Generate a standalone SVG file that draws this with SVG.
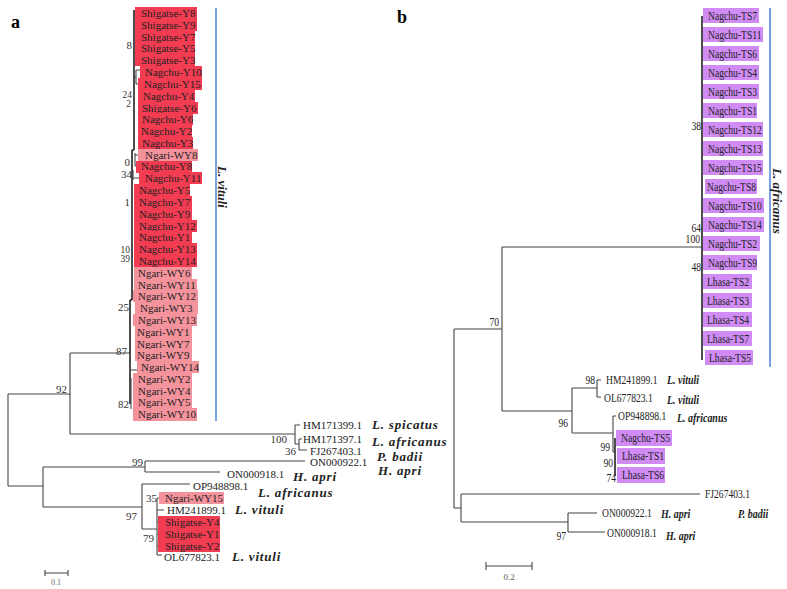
<svg xmlns="http://www.w3.org/2000/svg" width="787" height="589" viewBox="0 0 787 589">
<style>
text{font-family:"Liberation Serif","Times New Roman",serif;fill:#222}
.t{font-size:11px}
.n{font-size:11px;text-anchor:end;fill:#333}
.ns{font-size:9.5px;text-anchor:end;fill:#333}
.sp{font-size:13px;font-weight:bold;font-style:italic;letter-spacing:0.8px}
.b{font-size:12px}
.bn{font-size:12px;text-anchor:end}
.bsp{font-size:12px;font-weight:bold;font-style:italic}
.lab{font-size:18px;font-weight:bold;fill:#000}
.ln{fill:none;stroke:#444;stroke-width:1.1}
.lk{fill:none;stroke:#222;stroke-width:1.6}
.R{fill:#f23c52}
.P{fill:#f5939d}
.V{fill:#d08cf4}
.blue{stroke:#4a86d6;stroke-width:1.5}
</style>
<rect width="787" height="589" fill="#fff"/>
<text class="lab" x="11" y="28">a</text>
<text class="lab" x="397" y="23">b</text>

<!-- ===== Panel a boxes ===== -->
<g id="a-tips">
<rect class="R" x="135" y="7" width="62" height="12"/><text class="t" x="141" y="17">Shigatse-Y8</text>
<rect class="R" x="135" y="19" width="62" height="12"/><text class="t" x="141" y="29">Shigatse-Y9</text>
<rect class="R" x="135" y="31" width="60" height="12"/><text class="t" x="141" y="41">Shigatse-Y7</text>
<rect class="R" x="135" y="43" width="60" height="12"/><text class="t" x="141" y="52">Shigatse-Y5</text>
<rect class="R" x="135" y="54" width="60" height="12"/><text class="t" x="141" y="64">Shigatse-Y3</text>
<rect class="R" x="140" y="66" width="62" height="12"/><text class="t" x="145" y="76">Nagchu-Y10</text>
<rect class="R" x="138" y="78" width="64" height="12"/><text class="t" x="144" y="88">Nagchu-Y15</text>
<rect class="R" x="138" y="90" width="57" height="12"/><text class="t" x="143" y="100">Nagchu-Y4</text>
<rect class="R" x="138" y="102" width="60" height="12"/><text class="t" x="142" y="112">Shigatse-Y6</text>
<rect class="R" x="138" y="113" width="55" height="12"/><text class="t" x="142" y="123">Nagchu-Y6</text>
<rect class="R" x="138" y="125" width="54" height="12"/><text class="t" x="141" y="135">Nagchu-Y2</text>
<rect class="R" x="138" y="137" width="55" height="12"/><text class="t" x="142" y="147">Nagchu-Y3</text>
<rect class="P" x="138" y="149" width="60" height="12"/><text class="t" x="145" y="159">Ngari-WY8</text>
<rect class="R" x="136" y="161" width="56" height="12"/><text class="t" x="141" y="170">Nagchu-Y8</text>
<rect class="R" x="139" y="172" width="63" height="12"/><text class="t" x="145" y="182">Nagchu-Y11</text>
<rect class="R" x="134" y="184" width="56" height="12"/><text class="t" x="139" y="194">Nagchu-Y5</text>
<rect class="R" x="134" y="196" width="58" height="12"/><text class="t" x="139" y="206">Nagchu-Y7</text>
<rect class="R" x="134" y="208" width="58" height="12"/><text class="t" x="139" y="218">Nagchu-Y9</text>
<rect class="R" x="134" y="220" width="63" height="12"/><text class="t" x="139" y="230">Nagchu-Y12</text>
<rect class="R" x="134" y="231" width="58" height="12"/><text class="t" x="139" y="241">Nagchu-Y1</text>
<rect class="R" x="134" y="243" width="63" height="12"/><text class="t" x="139" y="253">Nagchu-Y13</text>
<rect class="R" x="134" y="255" width="63" height="12"/><text class="t" x="139" y="265">Nagchu-Y14</text>
<rect class="P" x="134" y="267" width="58" height="12"/><text class="t" x="138" y="277">Ngari-WY6</text>
<rect class="P" x="134" y="279" width="63" height="12"/><text class="t" x="138" y="289">Ngari-WY11</text>
<rect class="P" x="133" y="290" width="65" height="12"/><text class="t" x="138" y="300">Ngari-WY12</text>
<rect class="P" x="135" y="302" width="63" height="12"/><text class="t" x="140" y="312">Ngari-WY3</text>
<rect class="P" x="133" y="314" width="64" height="12"/><text class="t" x="138" y="324">Ngari-WY13</text>
<rect class="P" x="135" y="326" width="57" height="12"/><text class="t" x="137" y="336">Ngari-WY1</text>
<rect class="P" x="135" y="338" width="57" height="12"/><text class="t" x="137" y="348">Ngari-WY7</text>
<rect class="P" x="135" y="349" width="57" height="12"/><text class="t" x="137" y="359">Ngari-WY9</text>
<rect class="P" x="137" y="361" width="62" height="12"/><text class="t" x="141" y="371">Ngari-WY14</text>
<rect class="P" x="133" y="373" width="59" height="12"/><text class="t" x="138" y="383">Ngari-WY2</text>
<rect class="P" x="133" y="385" width="59" height="12"/><text class="t" x="138" y="395">Ngari-WY4</text>
<rect class="P" x="133" y="397" width="59" height="12"/><text class="t" x="138" y="406">Ngari-WY5</text>
<rect class="P" x="133" y="408" width="64" height="13"/><text class="t" x="138" y="418">Ngari-WY10</text>
</g>

<g id="a-lower-tips">
<rect class="P" x="159" y="492" width="65" height="12"/><text class="t" x="165" y="502">Ngari-WY15</text>
<rect class="R" x="158" y="516" width="62" height="36"/>
<text class="t" x="165" y="526">Shigatse-Y4</text>
<text class="t" x="165" y="538">Shigatse-Y1</text>
<text class="t" x="165" y="550">Shigatse-Y2</text>
<text class="t" x="303" y="429">HM171399.1</text>
<text class="t" x="303" y="443">HM171397.1</text>
<text class="t" x="310" y="455">FJ267403.1</text>
<text class="t" x="310" y="466">ON000922.1</text>
<text class="t" x="227" y="478">ON000918.1</text>
<text class="t" x="193" y="490">OP948898.1</text>
<text class="t" x="167" y="514">HM241899.1</text>
<text class="t" x="164" y="561">OL677823.1</text>
</g>

<g id="a-species">
<text class="sp" x="372" y="429">L. spicatus</text>
<text class="sp" x="372" y="446">L. africanus</text>
<text class="sp" x="377" y="461">P. badii</text>
<text class="sp" x="378" y="475">H. apri</text>
<text class="sp" x="293" y="481">H. apri</text>
<text class="sp" x="258" y="497">L. africanus</text>
<text class="sp" x="235" y="514">L. vituli</text>
<text class="sp" x="232" y="561">L. vituli</text>
<line class="blue" x1="216" y1="8" x2="216" y2="421"/>
<text class="sp" style="letter-spacing:0" transform="translate(218,187) rotate(90)" text-anchor="middle">L. vituli</text>
</g>

<g id="a-connectors">
<path class="ln" d="M8 394V486M8 394H70M70 353V434M70 353H130M70 434H295M8 486H43M43 467V507M43 467H145M145 461V472M145 461H305M145 472H220M43 507H142M142 484V529M142 484H190M142 529H157M157 498V555M157 498H159M157 510H164M157 522H158M157 534H158M157 546H158M157 555H162"/>
<path class="ln" d="M295 425V444M295 425H300M295 444H299M299 439V450M299 439H302M299 450H307"/>
<path class="lk" d="M134 10V150M132 150V300M130 300V404M134 150H132M132 300H130"/>
<path class="ln" d="M136 70V84M134 77H136M136 70H140M136 84H138M135 153V166M135 155H138M135 166H136M133 170V180M133 178H139M131 370H137M131 378V409"/>
<text class="n" x="132" y="49">8</text>
<text class="ns" x="132" y="98">24</text>
<text class="ns" x="131" y="107">2</text>
<text class="n" x="130" y="166">0</text>
<text class="n" x="132" y="178">34</text>
<text class="n" x="130" y="206">1</text>
<text class="ns" x="130" y="253">10</text>
<text class="ns" x="130" y="262">39</text>
<text class="n" x="129" y="311">25</text>
<text class="n" x="127" y="355">87</text>
<text class="n" x="129" y="408">82</text>
<text class="n" x="67" y="393">92</text>
<text class="n" x="287" y="443">100</text>
<text class="n" x="296" y="455">36</text>
<text class="n" x="143" y="466">99</text>
<text class="n" x="137" y="520">97</text>
<text class="n" x="157" y="502">35</text>
<text class="n" x="154" y="542">79</text>
<path class="ln" d="M45 573H68M45 570V576M68 570V576"/>
<text x="56" y="585" style="font-size:8px;fill:#666" text-anchor="middle">0.1</text>
</g>

<!-- ===== Panel b ===== -->
<g id="b-tips">
<rect class="V" x="703" y="8" width="56" height="15"/><text class="b" transform="matrix(.8 0 0 1 708 20)">Nagchu-TS7</text>
<rect class="V" x="703" y="27" width="60" height="15"/><text class="b" transform="matrix(.8 0 0 1 708 39)">Nagchu-TS11</text>
<rect class="V" x="703" y="46" width="56" height="15"/><text class="b" transform="matrix(.8 0 0 1 708 58)">Nagchu-TS6</text>
<rect class="V" x="703" y="65" width="56" height="15"/><text class="b" transform="matrix(.8 0 0 1 708 77)">Nagchu-TS4</text>
<rect class="V" x="703" y="84" width="56" height="15"/><text class="b" transform="matrix(.8 0 0 1 708 96)">Nagchu-TS3</text>
<rect class="V" x="703" y="103" width="54" height="15"/><text class="b" transform="matrix(.8 0 0 1 708 115)">Nagchu-TS1</text>
<rect class="V" x="703" y="122" width="60" height="15"/><text class="b" transform="matrix(.8 0 0 1 708 134)">Nagchu-TS12</text>
<rect class="V" x="703" y="141" width="60" height="15"/><text class="b" transform="matrix(.8 0 0 1 708 153)">Nagchu-TS13</text>
<rect class="V" x="703" y="160" width="60" height="15"/><text class="b" transform="matrix(.8 0 0 1 708 172)">Nagchu-TS15</text>
<rect class="V" x="705" y="179" width="52" height="15"/><text class="b" transform="matrix(.8 0 0 1 707 191)">Nagchu-TS8</text>
<rect class="V" x="703" y="198" width="61" height="15"/><text class="b" transform="matrix(.8 0 0 1 708 210)">Nagchu-TS10</text>
<rect class="V" x="703" y="217" width="61" height="15"/><text class="b" transform="matrix(.8 0 0 1 708 229)">Nagchu-TS14</text>
<rect class="V" x="703" y="236" width="57" height="15"/><text class="b" transform="matrix(.8 0 0 1 708 248)">Nagchu-TS2</text>
<rect class="V" x="703" y="255" width="54" height="15"/><text class="b" transform="matrix(.8 0 0 1 708 267)">Nagchu-TS9</text>
<rect class="V" x="703" y="274" width="49" height="15"/><text class="b" transform="matrix(.8 0 0 1 707 286)">Lhasa-TS2</text>
<rect class="V" x="703" y="293" width="49" height="15"/><text class="b" transform="matrix(.8 0 0 1 707 305)">Lhasa-TS3</text>
<rect class="V" x="703" y="312" width="49" height="15"/><text class="b" transform="matrix(.8 0 0 1 707 324)">Lhasa-TS4</text>
<rect class="V" x="703" y="331" width="49" height="15"/><text class="b" transform="matrix(.8 0 0 1 707 343)">Lhasa-TS7</text>
<rect class="V" x="705" y="350" width="48" height="15"/><text class="b" transform="matrix(.8 0 0 1 709 362)">Lhasa-TS5</text>
</g>

<g id="b-lower-tips">
<rect class="V" x="616" y="430" width="56" height="16"/><text class="b" transform="matrix(.8 0 0 1 621 442)">Nagchu-TS5</text>
<rect class="V" x="617" y="448" width="48" height="16"/><text class="b" transform="matrix(.8 0 0 1 622 460)">Lhasa-TS1</text>
<rect class="V" x="617" y="467" width="48" height="16"/><text class="b" transform="matrix(.8 0 0 1 622 479)">Lhasa-TS6</text>
<text class="b" transform="matrix(.8 0 0 1 606 384)">HM241899.1</text>
<text class="b" transform="matrix(.8 0 0 1 604 402)">OL677823.1</text>
<text class="b" transform="matrix(.8 0 0 1 618 420)">OP948898.1</text>
<text class="b" transform="matrix(.8 0 0 1 705 498)">FJ267403.1</text>
<text class="b" transform="matrix(.8 0 0 1 602 517)">ON000922.1</text>
<text class="b" transform="matrix(.8 0 0 1 607 537)">ON000918.1</text>
</g>

<g id="b-species">
<text class="bsp" transform="matrix(.83 0 0 1 667 384)">L. vituli</text>
<text class="bsp" transform="matrix(.83 0 0 1 667 404)">L. vituli</text>
<text class="bsp" transform="matrix(.83 0 0 1 677 422)">L. africanus</text>
<text class="bsp" transform="matrix(.83 0 0 1 661 518)">H. apri</text>
<text class="bsp" transform="matrix(.83 0 0 1 666 540)">H. apri</text>
<text class="bsp" transform="matrix(.83 0 0 1 738 518)">P. badii</text>
<line class="blue" x1="770" y1="8" x2="770" y2="367"/>
<text class="bsp" style="font-size:13px" transform="translate(773,201) rotate(90)" text-anchor="middle">L. africanus</text>
</g>

<g id="b-connectors">
<path class="ln" d="M454 329V508M454 329H502M502 247V411M502 247H702M502 411H572M572 388V433M572 388H597M597 380V397M597 380H601M597 397H601M572 433H613M613 416V452M613 416H616M613 452H615M454 508H461M461 494V522M461 494H700M461 522H568M568 513V532M568 513H597M568 532H605"/>
<path class="lk" d="M702 16V360M615 438V476"/>
<path class="ln" d="M486 566H532M486 562V570M532 562V570"/>
<text x="509" y="580" style="font-size:9px;fill:#555" text-anchor="middle">0.2</text>
<text class="bn" transform="matrix(.8 0 0 1 701 130)">38</text>
<text class="bn" transform="matrix(.8 0 0 1 701 232)">64</text>
<text class="bn" transform="matrix(.8 0 0 1 700 243)">100</text>
<text class="bn" transform="matrix(.8 0 0 1 701 271)">48</text>
<text class="bn" transform="matrix(.8 0 0 1 499 326)">70</text>
<text class="bn" transform="matrix(.8 0 0 1 595 384)">98</text>
<text class="bn" transform="matrix(.8 0 0 1 568 427)">96</text>
<text class="bn" transform="matrix(.8 0 0 1 610 451)">99</text>
<text class="bn" transform="matrix(.8 0 0 1 613 467)">90</text>
<text class="bn" transform="matrix(.8 0 0 1 616 482)">74</text>
<text class="bn" transform="matrix(.8 0 0 1 566 540)">97</text>
</g>
</svg>
